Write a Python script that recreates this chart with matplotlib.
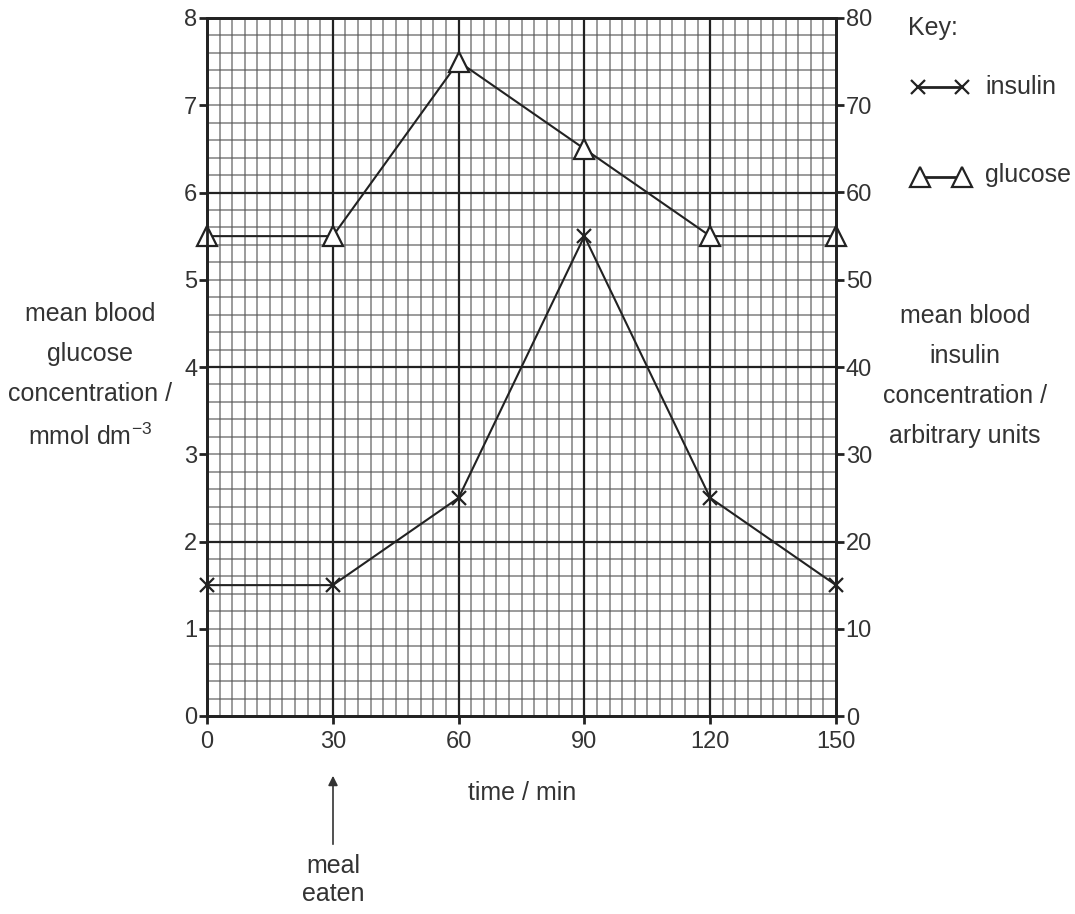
import matplotlib
matplotlib.use("Agg")
import matplotlib.pyplot as plt
from matplotlib.lines import Line2D

plt.rcParams['font.family'] = ['Liberation Sans Narrow', 'Liberation Sans', 'DejaVu Sans']

# data
time = [0, 30, 60, 90, 120, 150]
glucose = [5.5, 5.5, 7.5, 6.5, 5.5, 5.5]      # mmol dm-3 (left axis)
insulin = [15, 15, 25, 55, 25, 15]            # arbitrary units (right axis)
xticks = [0, 30, 60, 90, 120, 150]
yticks_left = [0, 1, 2, 3, 4, 5, 6, 7, 8]
yticks_right = [0, 10, 20, 30, 40, 50, 60, 70, 80]

fig = plt.figure(figsize=(10.75, 9.14), dpi=100)
ax = fig.add_axes([207 / 1075, 1 - 716 / 914, (836 - 207) / 1075, (716 - 18) / 914])
ax2 = ax.twinx()

ax.set_xlim(0, 150)
ax.set_ylim(0, 8)
ax2.set_ylim(0, 80)

# graph paper grid
for i in range(1, 50):
    x = i * 3
    if x % 30 == 0:
        ax.axvline(x, color='#222222', lw=1.6, zorder=1)
    else:
        ax.axvline(x, color='#555555', lw=1.1, alpha=0.75, zorder=0)
for j in range(1, 40):
    y = j * 0.2
    if j % 10 == 0:
        ax.axhline(y, color='#222222', lw=1.6, zorder=1)
    else:
        ax.axhline(y, color='#555555', lw=1.1, alpha=0.75, zorder=0)

ax.plot(time, glucose, color='#222222', lw=1.5, marker='^', ms=14,
        mfc='white', mec='#222222', mew=1.6, zorder=5, clip_on=False)
ax2.plot(time, insulin, color='#222222', lw=1.5, marker='x', ms=10,
         mew=1.6, zorder=5, clip_on=False)

for a in (ax, ax2):
    for s in a.spines.values():
        s.set_linewidth(2)
        s.set_color('#222222')
    a.tick_params(labelsize=17, width=2, length=6, color='#222222', labelcolor='#333333', pad=1)

ax.set_xticks(xticks)
ax.set_yticks(yticks_left)
ax2.set_yticks(yticks_right)
ax.tick_params(axis='x', pad=5)

fs = 18
fig.text(522 / 1075, 1 - 793 / 914, 'time / min', ha='center', va='center', fontsize=fs, color='#333333')
fig.text(90 / 1075, 1 - 376 / 914,
         'mean blood\nglucose\nconcentration /\nmmol dm$^{\\mathregular{-3}}$',
         ha='center', va='center', fontsize=fs, color='#333333', linespacing=1.85)
fig.text(965 / 1075, 1 - 376 / 914,
         'mean blood\ninsulin\nconcentration /\narbitrary units',
         ha='center', va='center', fontsize=fs, color='#333333', linespacing=1.85)

# meal eaten arrow
ax.annotate('', xy=(333 / 1075, 1 - 773 / 914), xytext=(333 / 1075, 1 - 847 / 914),
            xycoords='figure fraction', textcoords='figure fraction',
            arrowprops=dict(arrowstyle='-|>', color='#333333', lw=1.2, mutation_scale=14),
            annotation_clip=False)
fig.text(333 / 1075, 1 - 880 / 914, 'meal\neaten', ha='center', va='center',
         fontsize=fs, color='#333333', linespacing=1.25)

# key
fig.text(908 / 1075, 1 - 28 / 914, 'Key:', ha='left', va='center', fontsize=fs, color='#333333')
fig.add_artist(Line2D([918 / 1075, 962 / 1075], [1 - 87 / 914, 1 - 87 / 914],
                      transform=fig.transFigure, color='#222222', lw=2,
                      marker='x', ms=10, mew=1.6))
fig.text(985 / 1075, 1 - 87 / 914, 'insulin', ha='left', va='center', fontsize=fs, color='#333333')
fig.add_artist(Line2D([920 / 1075, 962 / 1075], [1 - 177 / 914, 1 - 177 / 914],
                      transform=fig.transFigure, color='#222222', lw=2,
                      marker='^', ms=14, mfc='white', mec='#222222', mew=1.6))
fig.text(985 / 1075, 1 - 175 / 914, 'glucose', ha='left', va='center', fontsize=fs, color='#333333')

fig.savefig('out.png', dpi=100)
